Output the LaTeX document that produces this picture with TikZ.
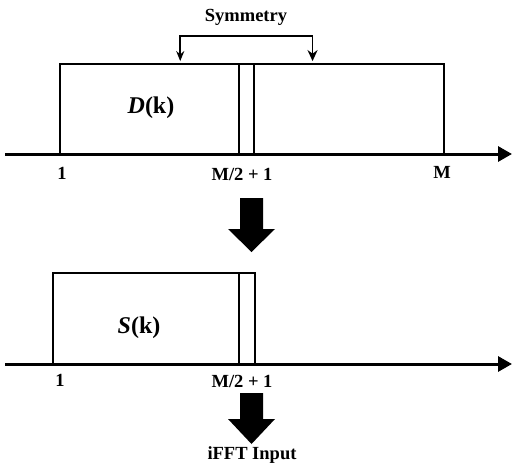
\documentclass[tikz,border=0pt]{standalone}
\usepackage{fontspec}
\setmainfont{Liberation Serif}
\usetikzlibrary{arrows.meta,calc}

\begin{document}
\begin{tikzpicture}[
  x=1pt,y=-1pt,
  line width=1.6pt,
  % frequency axis with a solid triangular head
  axis/.style={line width=3pt,-{Triangle[length=14pt,width=15pt]}},
  % a block of bins standing on the axis
  blk/.style={draw,line width=1.8pt,inner sep=0pt},
  lbl/.style={font=\bfseries\fontsize{18.5}{20}\selectfont},
  sym/.style={font=\bfseries\fontsize{24}{26}\selectfont},
  fat/.style={fill=black,draw=none},
]
\useasboundingbox (0,0) rectangle (512,472);

%--- geometry ----------------------------------------------------------------
\def\yaxA{154}     % upper axis
\def\yaxB{364}     % lower axis

%--- upper spectrum: D(k) and its mirrored half ------------------------------
\draw[axis] (5,\yaxA) -- (512,\yaxA);
\node[blk,minimum width=179pt,minimum height=90pt] (dblk) at (149.5,109) {};
\node[sym] (dlbl) at (151,108) {\textit{D}(k)};
\node[blk,minimum width=15pt,minimum height=90pt] (dbin) at (246.5,109) {};
\node[blk,minimum width=190pt,minimum height=90pt] (mirr) at (349,109) {};

\node[lbl] (one1) at (62,173) {1};
\node[lbl] (half1) at (242,174) {M/2 + 1};
\node[lbl] (bigm) at (442,172) {M};

% symmetry bracket over both halves
\node[lbl] (symm) at (246,17) {Symmetry};
\coordinate (brL) at ($(dblk.north west)!0.67!(dblk.north east)+(0,-2)$);
\coordinate (brR) at ($(mirr.north west)!0.31!(mirr.north east)+(0,-2)$);
\draw[line width=1.8pt,{Stealth[length=10pt,width=8pt]}-{Stealth[length=11pt,width=10pt]}]
  (brL) -- ++(0,-25) -| (brR);

%--- step arrow --------------------------------------------------------------
\fill[fat] (240,198) -- (263,198) -- (263,229) -- (275,229) -- (251.5,252)
  -- (228,229) -- (240,229) -- cycle;

%--- lower spectrum: S(k) ----------------------------------------------------
\draw[axis] (5,\yaxB) -- (512,\yaxB);
\node[blk,minimum width=186pt,minimum height=91pt] (sblk) at (146,318.5) {};
\node[sym] (slbl) at (139,328) {\textit{S}(k)};
\node[blk,minimum width=16pt,minimum height=91pt] (sbin) at (247,318.5) {};

\node[lbl] (one2) at (60,380) {1};
\node[lbl] (half2) at (242,381) {M/2 + 1};

%--- output arrow ------------------------------------------------------------
\fill[fat] (240,393) -- (263,393) -- (263,419) -- (275,419) -- (251.5,444)
  -- (228,419) -- (240,419) -- cycle;
\node[lbl] (ifft) at (252,455) {iFFT Input};

\end{tikzpicture}
\end{document}
